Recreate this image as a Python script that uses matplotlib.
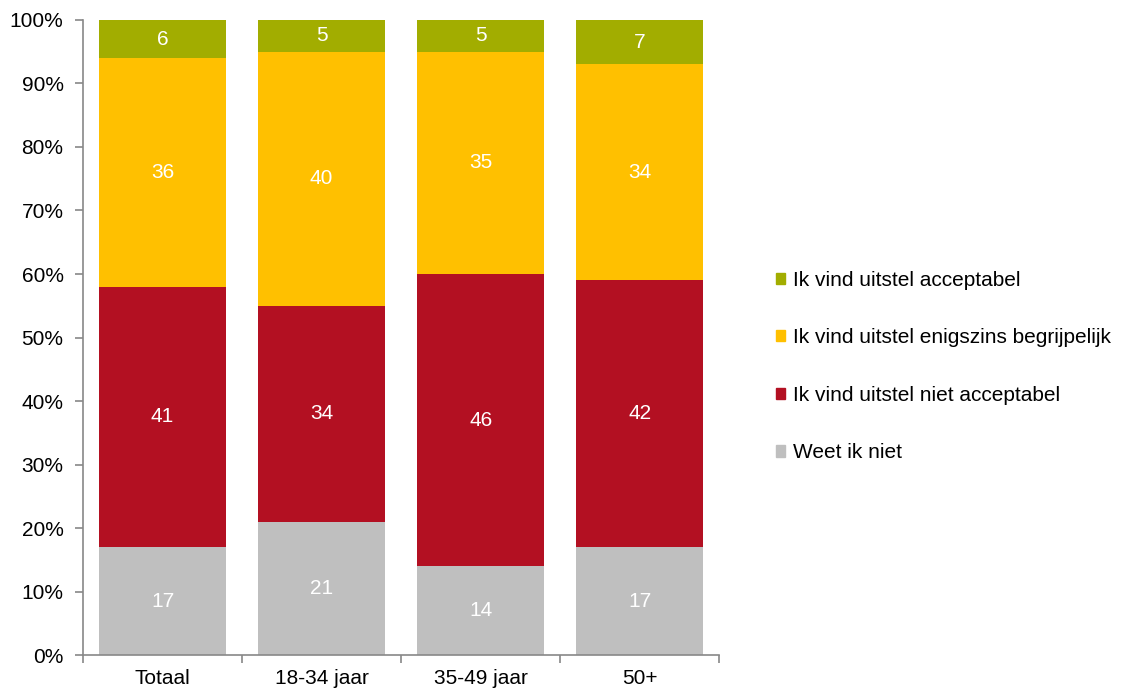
import numpy as np
import matplotlib.pyplot as plt
from matplotlib.patches import Patch

plt.rcParams['font.family'] = ['Liberation Sans', 'DejaVu Sans']

# Data
categories = ['Totaal', '18-34 jaar', '35-49 jaar', '50+']
series_names = ['Weet ik niet', 'Ik vind uitstel niet acceptabel',
                'Ik vind uitstel enigszins begrijpelijk', 'Ik vind uitstel acceptabel']
weet_niet = [17, 21, 14, 17]
niet_acceptabel = [41, 34, 46, 42]
enigszins = [36, 40, 35, 34]
acceptabel = [6, 5, 5, 7]
colors = ['#BFBFBF', '#B31022', '#FFC000', '#A2AD00']

fig = plt.figure(figsize=(11.22, 6.89), dpi=100)
ax = fig.add_axes([0.074, 0.0493, 0.567, 0.9217])

x = np.arange(len(categories))
bottom = np.zeros(len(categories))
for vals, name, col in zip([weet_niet, niet_acceptabel, enigszins, acceptabel], series_names, colors):
    bars = ax.bar(x, vals, bottom=bottom, width=0.8, color=col, label=name)
    ax.bar_label(bars, labels=[str(v) for v in vals], label_type='center',
                 color='white', fontsize=15)
    bottom += np.array(vals)

ax.set_xlim(-0.5, len(categories) - 0.5)
ax.set_ylim(0, 100)
ax.set_yticks(np.arange(0, 101, 10))
ax.set_yticklabels([f'{v}%' for v in range(0, 101, 10)], fontsize=15)

# categorie-labels zonder streepjes, streepjes op de grenzen
ax.set_xticks(x)
ax.set_xticklabels(categories, fontsize=15)
ax.tick_params(axis='x', length=0, pad=10)
ax.set_xticks(np.arange(-0.5, len(categories)), minor=True)
ax.tick_params(axis='x', which='minor', length=6, color='#888888', width=1.2)
ax.tick_params(axis='y', length=6, color='#888888', width=1.2, pad=8)

for s in ['top', 'right']:
    ax.spines[s].set_visible(False)
for s in ['left', 'bottom']:
    ax.spines[s].set_color('#888888')
    ax.spines[s].set_linewidth(1.2)

handles = [Patch(color=c) for c in colors][::-1]
fig.legend(handles, series_names[::-1], loc='center left',
           bbox_to_anchor=(0.675, 0.468), frameon=False, fontsize=15,
           handlelength=0.45, handleheight=0.45, handletextpad=0.35,
           labelspacing=1.85)

fig.savefig('out.png', dpi=100)
